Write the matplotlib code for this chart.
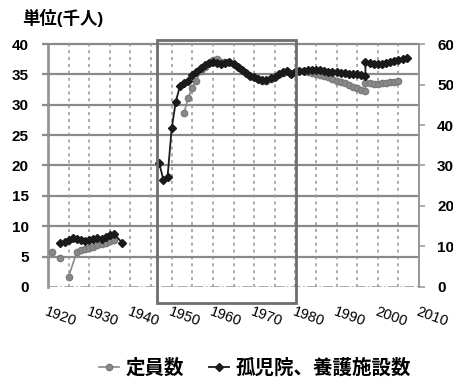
import numpy as np
import matplotlib
matplotlib.use('Agg')
import matplotlib.pyplot as plt
from matplotlib.patches import Rectangle

plt.rcParams['font.family'] = ['Liberation Sans', 'Noto Sans CJK JP', 'DejaVu Sans']

nan = np.nan

# 定員数 (left axis, thousand people)
teiin_years = [1921, 1922, 1923, 1924, 1925, 1927, 1928, 1929, 1930, 1931, 1932, 1933, 1934, 1935, 1936,
               1940,
               1953, 1954, 1955, 1956, 1957, 1958, 1959, 1960, 1961, 1962, 1963, 1964, 1965, 1966, 1967,
               1968, 1969, 1970, 1971, 1972, 1973, 1974, 1975, 1976, 1977, 1978, 1979, 1980, 1981, 1982,
               1983, 1984, 1985, 1986, 1987, 1988, 1989, 1990, 1991, 1992, 1993, 1994, 1995, 1996, 1997,
               1997, 1998, 1999, 2000, 2001, 2002, 2003, 2004, 2005]
teiin_vals = [5.8, nan, 4.7, nan, 1.7, 5.8, 6.0, 6.2, 6.4, 6.6, 6.9, 7.1, 7.3, 7.5, 7.7,
              nan,
              28.6, 31.2, 32.8, 34.0, 35.5, 36.3, 36.9, 37.4, 37.6, 37.1, 37.0, 37.0, 36.7, 36.2, 35.7,
              35.2, 34.8, 34.5, 34.2, 34.0, 34.0, 34.3, 34.6, 35.0, 35.3, 35.6, 35.0, 35.4, 35.5, 35.5,
              35.4, 35.3, 35.1, 34.9, 34.7, 34.5, 34.3, 34.0, 33.8, 33.6, 33.3, 33.0, 32.8, 32.5, 32.2,
              33.6, 33.6, 33.5, 33.5, 33.6, 33.6, 33.7, 33.8, 33.9]

# 孤児院、養護施設数 (right axis)
shisetsu_years = [1923, 1924, 1925, 1926, 1927, 1928, 1929, 1930, 1931, 1932, 1933, 1934, 1935, 1936, 1938,
                  1942,
                  1947, 1948, 1949, 1950, 1951, 1952, 1953, 1954, 1955, 1956, 1957, 1958, 1959, 1960,
                  1961, 1962, 1963, 1964, 1965, 1966, 1967, 1968, 1969, 1970, 1971, 1972, 1973, 1974,
                  1975, 1976, 1977, 1978, 1979, 1980, 1981, 1982, 1983, 1984, 1985, 1986, 1987, 1988,
                  1989, 1990, 1991, 1992, 1993, 1994, 1995, 1996, 1997,
                  1997, 1998, 1999, 2000, 2001, 2002, 2003, 2004, 2005, 2006, 2007]
shisetsu_vals = [10.9, 11.2, 11.6, 12.0, 11.8, 11.6, 11.4, 11.6, 11.8, 12.0, 11.8, 12.4, 12.8, 13.1, 10.9,
                 nan,
                 30.5, 26.4, 27.2, 39.2, 45.8, 49.6, 50.3, 51.0, 52.3, 53.0, 54.0, 54.8, 55.3, 55.6,
                 55.4, 55.2, 55.4, 55.5, 55.2, 54.4, 53.6, 52.8, 52.2, 51.8, 51.4, 51.1, 51.1, 51.5,
                 51.9, 52.5, 53.0, 53.4, 52.6, 53.2, 53.3, 53.4, 53.5, 53.6, 53.6, 53.5, 53.3, 53.2,
                 53.1, 53.0, 52.9, 52.8, 52.7, 52.6, 52.5, 52.3, 52.1,
                 55.6, 55.3, 55.1, 55.1, 55.2, 55.4, 55.6, 55.9, 56.1, 56.3, 56.6]

left_ticks = list(range(0, 41, 5))
right_ticks = list(range(0, 61, 10))
decade_ticks = list(range(1920, 2011, 10))
grid_years = list(range(1925, 2010, 5))

# highlighted period
box_start, box_end = 1946.5, 1980.2

fig = plt.figure(figsize=(4.53, 3.8), dpi=100)
ax = fig.add_axes([0.106, 0.245, 0.819, 0.639])
ax2 = ax.twinx()

grid_c = '#969696'
hgrid_c = '#8a8a8a'

ax.set_xlim(1920, 2010)
ax.set_ylim(0, 40)
ax2.set_ylim(0, 60)

# horizontal grid as a line collection (in left-axis units), a little past the left spine
ax2.hlines(left_ticks[1:], 1918.5, 2010, colors=hgrid_c, linewidths=1.6, zorder=0.5,
           clip_on=False, transform=ax.transData)
# dashed vertical grid
ax2.vlines(grid_years, 0, 40, colors=grid_c, linewidths=1.1, linestyles=(0, (2, 2.5)),
           zorder=0.5, transform=ax.transData)
ax2.axhline(0, color=grid_c, lw=1.1, ls='-.', zorder=0.6)

# gray series in left-axis units, drawn in the twin so it sits above the grid
l1, = ax2.plot(teiin_years, teiin_vals, color='#8a8a8a', lw=1.2, marker='o', ms=4.5,
               mfc='#8a8a8a', mec='#7a7a7a', label='定員数', zorder=3, transform=ax.transData)
l2, = ax2.plot(shisetsu_years, shisetsu_vals, color='#1a1a1a', lw=1.3, marker='D', ms=4,
               mfc='#1a1a1a', mec='#1a1a1a', label='孤児院、養護施設数', zorder=3.1)
ax2.set_xlim(1920, 2010)
ax2.set_ylim(0, 60)

ax.set_yticks(left_ticks)
ax.set_yticklabels([str(v) for v in left_ticks], fontweight='bold', fontsize=11)
ax.set_xticks(decade_ticks)
ax.set_xticklabels([str(v) for v in decade_ticks], rotation=-20, ha='left', va='top',
                   rotation_mode='anchor', fontsize=10.5)
ax2.set_yticks(right_ticks)
ax2.set_yticklabels([str(v) for v in right_ticks], fontweight='bold', fontsize=11)

ax.tick_params(axis='y', length=0, pad=14)
ax.tick_params(axis='x', length=0, pad=13)
ax2.tick_params(axis='y', length=4, width=1.1, color=grid_c, pad=9)

for s in ['top', 'right', 'bottom']:
    ax.spines[s].set_visible(False)
for s in ['top', 'left', 'bottom']:
    ax2.spines[s].set_visible(False)
ax.spines['left'].set_color(grid_c)
ax.spines['left'].set_linewidth(2.0)
ax2.spines['right'].set_color(grid_c)
ax2.spines['right'].set_linewidth(1.4)

ax2.add_patch(Rectangle((box_start, -2.6), box_end - box_start, 43.3, fill=False,
                        ec='#6e6e6e', lw=2.0, clip_on=False, zorder=5, transform=ax.transData))

fig.text(0.049, 0.953, '単位(千人)', fontsize=12.5, fontweight='bold', va='center', ha='left')

fig.legend(handles=[l1, l2], loc='center', bbox_to_anchor=(0.563, 0.032), ncol=2,
           frameon=False, prop={'size': 14, 'weight': 'bold'}, handlelength=1.0,
           handletextpad=0.35, columnspacing=1.3, borderaxespad=0)

plt.savefig('out.png', dpi=100)
